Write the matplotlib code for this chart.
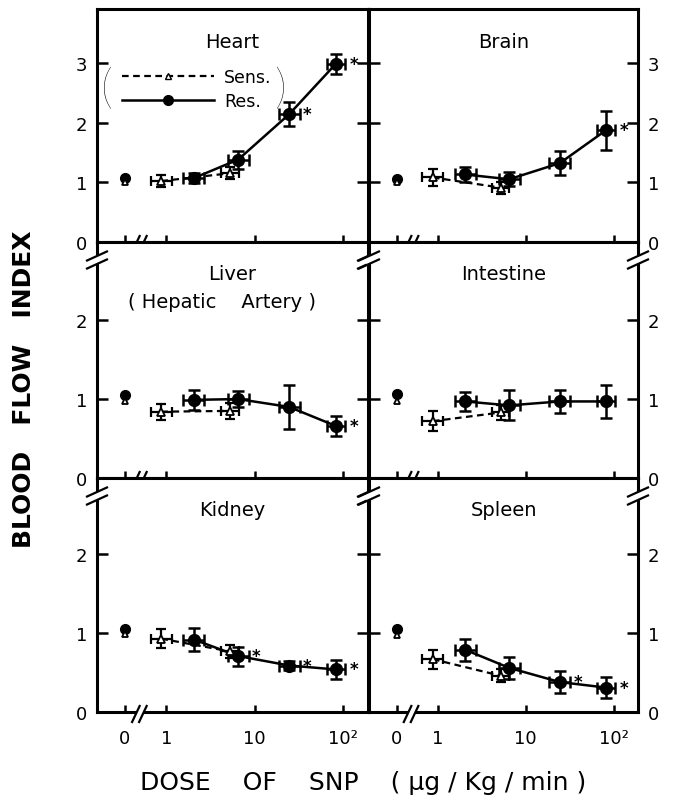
"""
Blood flow index vs. dose of SNP for six organs (Sens. vs Res. groups).
Recreated as a 3x2 grid of log-dose panels with axis breaks.
"""
import numpy as np
import matplotlib
matplotlib.use("Agg")
import matplotlib.pyplot as plt
from matplotlib.lines import Line2D
from matplotlib.ticker import NullLocator

plt.rcParams["font.family"] = ["DejaVu Sans"]

# --- data ---------------------------------------------------------------
ORGANS = ["Heart", "Brain", "Liver", "Intestine", "Kidney", "Spleen"]
SUBTITLES = ["", "", "( Hepatic    Artery )", "", "", ""]

CONTROL_X = 0.34          # where the "0" dose sits on the log axis
SENS_DOSE = [0.88, 5.2]
RES_DOSE = [2.05, 6.5, 24.5, 82.0]
SENS_DOSE_LOGSD = [0.12, 0.10]             # dose spread, in decades
RES_DOSE_LOGSD = [0.12, 0.12, 0.12, 0.10]

CTRL_RES = [1.07, 1.05, 1.05, 1.06, 1.05, 1.05]
CTRL_SENS = [1.00, 1.00, 0.98, 0.97, 0.99, 0.98]

SENS_MEAN = [[1.02, 1.15], [1.08, 0.91], [0.84, 0.85],
             [0.72, 0.83], [0.93, 0.77], [0.67, 0.46]]
SENS_SE = [[0.10, 0.10], [0.15, 0.10], [0.10, 0.10],
           [0.13, 0.10], [0.12, 0.08], [0.12, 0.08]]
RES_MEAN = [[1.07, 1.38, 2.14, 2.98], [1.13, 1.05, 1.32, 1.87],
            [0.99, 1.00, 0.90, 0.66], [0.97, 0.92, 0.97, 0.97],
            [0.92, 0.71, 0.59, 0.54], [0.79, 0.56, 0.38, 0.31]]
RES_SE = [[0.08, 0.15, 0.20, 0.16], [0.12, 0.12, 0.20, 0.33],
          [0.13, 0.10, 0.28, 0.13], [0.12, 0.19, 0.15, 0.21],
          [0.14, 0.12, 0.06, 0.12], [0.14, 0.14, 0.14, 0.13]]
RES_SIG = [[0, 0, 1, 1], [0, 0, 0, 1], [0, 0, 0, 1],
           [0, 0, 0, 0], [0, 1, 1, 1], [0, 0, 1, 1]]

XTICKS = [CONTROL_X, 1, 10, 100]
XTICKLABELS = ["0", "1", "10", "10²"]
YTICKS_TOP = [0, 1, 2, 3]
YTICKS = [0, 1, 2]

# --- layout (pixels) -----------------------------------------------------
W, H = 673, 804
COLS = [(97, 368), (369, 638)]
ROWS = [(10, 243), (243, 479), (479, 713)]
YLIMS = [(0, 3.9), (0, 2.99), (0, 2.97)]
XLIM = (0.165, 190)

fig = plt.figure(figsize=(W / 100, H / 100), dpi=100)


def log_err(dose, logsd):
    d = np.asarray(dose)
    s = np.asarray(logsd)
    return np.vstack([d - d / 10 ** s, d * 10 ** s - d])


def seg(ax, pts, wpx, hpx, color="k", lw=1.6):
    xs = [p[0] / wpx for p in pts]
    ys = [p[1] / hpx for p in pts]
    ax.plot(xs, ys, color=color, lw=lw, transform=ax.transAxes,
            clip_on=False, zorder=10, solid_capstyle="butt")


def x_break(ax, wpx, hpx):
    xa = ax.transAxes.inverted().transform(ax.transData.transform((0.5, 1)))[0]
    c = xa * wpx
    seg(ax, [(c - 3.5, 0), (c + 3.5, 0)], wpx, hpx, color="white", lw=4)
    for off in (-3.5, 3.5):
        seg(ax, [(c + off - 4.5, -11), (c + off + 4, 7)], wpx, hpx)


def y_break(ax, side, wpx, hpx):
    x = 0 if side == 0 else wpx
    top = hpx - 18
    seg(ax, [(x, top - 4), (x, top + 4)], wpx, hpx, color="white", lw=4)
    for off in (-4, 4):
        seg(ax, [(x - 11, top + off - 5), (x + 11, top + off + 5)], wpx, hpx)


for i, organ in enumerate(ORGANS):
    r, c = divmod(i, 2)
    x0, x1 = COLS[c]
    y0, y1 = ROWS[r]
    wpx, hpx = x1 - x0, y1 - y0
    ax = fig.add_axes([x0 / W, 1 - y1 / H, wpx / W, hpx / H])

    ax.set_xscale("log")
    ax.set_xlim(*XLIM)
    ax.set_ylim(*YLIMS[r])

    # error bars first, then lines + markers on top
    ax.errorbar(SENS_DOSE, SENS_MEAN[i], yerr=SENS_SE[i],
                xerr=log_err(SENS_DOSE, SENS_DOSE_LOGSD), fmt="none",
                ecolor="k", elinewidth=1.6, capsize=3.5, capthick=1.6, zorder=2)
    ax.errorbar(RES_DOSE, RES_MEAN[i], yerr=RES_SE[i],
                xerr=log_err(RES_DOSE, RES_DOSE_LOGSD), fmt="none",
                ecolor="k", elinewidth=1.8, capsize=4, capthick=1.8, zorder=2)
    ax.plot(SENS_DOSE, SENS_MEAN[i], color="k", lw=1.6, ls=(0, (3, 2)),
            marker="^", ms=5.5, mfc="white", mec="k", mew=1.3, zorder=4)
    ax.plot(RES_DOSE, RES_MEAN[i], color="k", lw=1.8, marker="o",
            ms=8.5, zorder=3)
    ax.plot([CONTROL_X], [CTRL_RES[i]], "o", color="k", ms=7, zorder=3)
    ax.plot([CONTROL_X], [CTRL_SENS[i]], "^", color="k", ms=5, mfc="white",
            mew=1.3, zorder=4)

    for d, v, s in zip(RES_DOSE, RES_MEAN[i], RES_SIG[i]):
        if s:
            ax.annotate("*", (d, v), xytext=(10, 0), textcoords="offset points",
                        fontsize=12, fontweight="bold", va="center", ha="left")

    # titles
    ax.text(0.5, 1 - 32 / hpx, organ, transform=ax.transAxes, ha="center",
            va="center", fontsize=14)
    if SUBTITLES[i]:
        ax.text(0.46, 1 - 60 / hpx, SUBTITLES[i], transform=ax.transAxes,
                ha="center", va="center", fontsize=14)

    # axes styling
    for sp in ax.spines.values():
        sp.set_linewidth(2.2)
    ax.set_xticks(XTICKS)
    ax.xaxis.set_minor_locator(NullLocator())
    ax.set_xticklabels(XTICKLABELS if r == 2 else [""] * len(XTICKS))
    ax.tick_params(axis="x", direction="in", length=5, width=1.8, pad=12,
                   labelsize=13)
    ax.set_yticks(YTICKS_TOP if r == 0 else YTICKS)
    ax.tick_params(axis="y", direction="in", length=8, width=1.8,
                   left=True, right=True, labelleft=(c == 0),
                   labelright=(c == 1), pad=7, labelsize=13)

    x_break(ax, wpx, hpx)
    if r > 0:
        y_break(ax, 0, wpx, hpx)
        y_break(ax, 1, wpx, hpx)

    if i == 0:
        handles = [
            Line2D([], [], color="k", lw=1.6, ls=(0, (3, 2)), marker="^",
                   ms=5, mfc="white", mec="k"),
            Line2D([], [], color="k", lw=1.8, marker="o", ms=7),
        ]
        ax.legend(handles, ["Sens.", "Res."], loc="upper left",
                  bbox_to_anchor=(0.092, 0.745), frameon=False,
                  handlelength=5.3, handletextpad=0.6, labelspacing=0.3,
                  fontsize=12.5, borderaxespad=0, borderpad=0)
        ax.text(0.035, 0.655, "(", transform=ax.transAxes, ha="center",
                va="center", fontsize=34, fontweight="light",
                family=["Lato", "DejaVu Sans"])
        ax.text(0.675, 0.655, ")", transform=ax.transAxes, ha="center",
                va="center", fontsize=34, fontweight="light",
                family=["Lato", "DejaVu Sans"])

fig.text(363 / W, 1 - 783 / H, "DOSE    OF    SNP    ( μg / Kg / min )",
         ha="center", va="center", fontsize=18)
fig.text(24 / W, 1 - 389 / H, "BLOOD   FLOW   INDEX", ha="center",
         va="center", rotation=90, fontsize=18, fontweight="bold")

fig.savefig("out.png", dpi=100)
